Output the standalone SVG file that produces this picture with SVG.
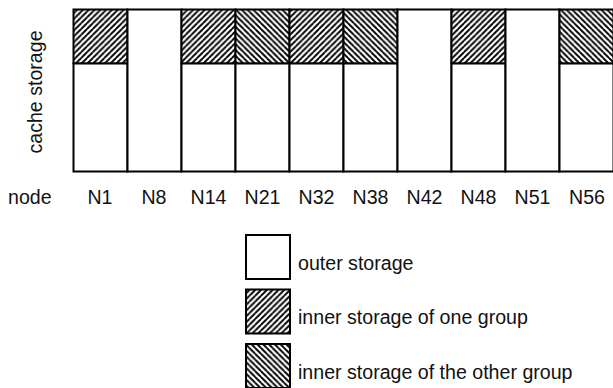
<svg xmlns="http://www.w3.org/2000/svg" width="613" height="388" viewBox="0 0 613 388">
<style>
text { font-family: "Liberation Sans", Arial, sans-serif; font-size: 19.6px; fill: #111; }
.lbl { text-anchor: middle; }
.box { stroke: #000; stroke-width: 2; fill: #fff; }
.fwd { stroke: #000; stroke-width: 2; fill: url(#hFwd); }
.bwd { stroke: #000; stroke-width: 2; fill: url(#hBwd); }
</style>
<defs>
<pattern id="hFwd" patternUnits="userSpaceOnUse" x="0" y="0" width="5.8" height="5.8">
<rect width="5.8" height="5.8" fill="#fff"/>
<path d="M-1,6.8 L6.8,-1 M-3,2.8 L2.8,-3 M3,8.8 L8.8,3" stroke="#000" stroke-width="1.9" fill="none"/>
</pattern>
<pattern id="hBwd" patternUnits="userSpaceOnUse" x="0" y="0" width="5.8" height="5.8">
<rect width="5.8" height="5.8" fill="#fff"/>
<path d="M-1,-1 L6.8,6.8 M-3,3 L2.8,8.8 M3,-3 L8.8,2.8" stroke="#000" stroke-width="1.9" fill="none"/>
</pattern>
</defs>
<rect width="613" height="388" fill="#fff"/>

<text id="ylabel" transform="translate(41.5,92) rotate(-90)" text-anchor="middle">cache storage</text>
<text id="xlabel" x="8" y="204">node</text>

<g id="N1"><rect class="box" x="73.5" y="63.3" width="54" height="108.2"/><rect class="fwd" x="73.5" y="9.5" width="54" height="53.8"/><text class="lbl" x="100" y="204">N1</text></g>
<g id="N8"><rect class="box" x="127.5" y="9.5" width="54" height="162"/><text class="lbl" x="154" y="204">N8</text></g>
<g id="N14"><rect class="box" x="181.5" y="63.3" width="54" height="108.2"/><rect class="fwd" x="181.5" y="9.5" width="54" height="53.8"/><text class="lbl" x="208.5" y="204">N14</text></g>
<g id="N21"><rect class="box" x="235.5" y="63.3" width="54" height="108.2"/><rect class="bwd" x="235.5" y="9.5" width="54" height="53.8"/><text class="lbl" x="262.5" y="204">N21</text></g>
<g id="N32"><rect class="box" x="289.5" y="63.3" width="54" height="108.2"/><rect class="fwd" x="289.5" y="9.5" width="54" height="53.8"/><text class="lbl" x="316.5" y="204">N32</text></g>
<g id="N38"><rect class="box" x="343.5" y="63.3" width="54" height="108.2"/><rect class="bwd" x="343.5" y="9.5" width="54" height="53.8"/><text class="lbl" x="370.5" y="204">N38</text></g>
<g id="N42"><rect class="box" x="397.5" y="9.5" width="54" height="162"/><text class="lbl" x="424.5" y="204">N42</text></g>
<g id="N48"><rect class="box" x="451.5" y="63.3" width="54" height="108.2"/><rect class="fwd" x="451.5" y="9.5" width="54" height="53.8"/><text class="lbl" x="478.5" y="204">N48</text></g>
<g id="N51"><rect class="box" x="505.5" y="9.5" width="54" height="162"/><text class="lbl" x="532.5" y="204">N51</text></g>
<g id="N56"><rect class="box" x="559.5" y="63.3" width="54" height="108.2"/><rect class="bwd" x="559.5" y="9.5" width="54" height="53.8"/><text class="lbl" x="587" y="204">N56</text></g>

<g id="legend">
<rect class="box" x="246" y="235" width="44" height="44"/>
<text x="298" y="269.5">outer storage</text>
<rect class="fwd" x="246" y="289.5" width="44" height="44"/>
<text x="298" y="324">inner storage of one group</text>
<rect class="bwd" x="246" y="344" width="44" height="44"/>
<text x="298" y="378.5">inner storage of the other group</text>
</g>
<g id="connectors"/>
</svg>
